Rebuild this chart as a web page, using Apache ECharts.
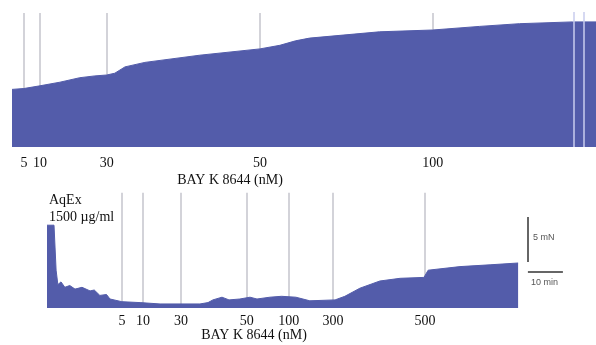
<!DOCTYPE html>
<html>
<head>
<meta charset="utf-8">
<script src="https://cdn.jsdelivr.net/npm/echarts@6/dist/echarts.min.js"></script>
<style>
html, body { margin: 0; padding: 0; background: #fff; }
#chart { width: 596px; height: 345px; }
</style>
</head>
<body>
<div id="chart"></div>
<script>
// time in min, tension in mN (scale bar: 10 min, 5 mN)
var topTrace = [
  [0, 6.4], [3.4, 6.5], [8.0, 6.8], [13.7, 7.2], [19.4, 7.7], [23.7, 7.9],
  [27.1, 8.0], [29.4, 8.2], [32.3, 8.9], [38.0, 9.4], [53.7, 10.2],
  [70.9, 10.9], [76.6, 11.3], [81.1, 11.8], [85.1, 12.1], [105.1, 12.8],
  [120.3, 13.0], [133.7, 13.4], [145.1, 13.7], [160.3, 13.9], [167, 13.9]
];
var topAdds = [3.4, 8.0, 27.1, 70.9, 120.3];
var topDoses = ['5', '10', '30', '50', '100'];
var topArtifacts = [160.6, 163.4];

var bottomTrace = [
  [0, 9.2], [2.0, 9.2], [2.6, 4.2], [3.1, 2.6], [4.0, 2.9], [5.1, 2.3],
  [6.5, 2.5], [8.0, 2.1], [10.0, 2.3], [12.3, 1.9], [13.5, 2.0], [15.1, 1.4],
  [17.0, 1.5], [18.0, 1.0], [21.4, 0.7], [26.6, 0.6], [32.3, 0.45],
  [43.7, 0.45], [46.0, 0.6], [47.4, 0.9], [50.0, 1.2], [52.0, 0.9],
  [55.1, 1.0], [58.0, 1.2], [60.0, 1.0], [63.7, 1.2], [67.0, 1.3],
  [71.1, 1.2], [75.1, 0.8], [82.3, 0.9], [85.1, 1.3], [89.4, 2.2],
  [95.1, 3.0], [100.9, 3.3], [107.7, 3.4], [108.9, 4.2], [118.0, 4.6],
  [126.6, 4.8], [134.6, 5.0]
];
var bottomAdds = [21.4, 27.4, 38.3, 57.1, 69.1, 81.7, 108.0];
var bottomDoses = ['5', '10', '30', '50', '100', '300', '500'];

var scaleOrigin = [137.4, 4.0];
var scaleTime = 10;
var scaleForce = 5;

var fill = '#535CAA';
var marker = '#c4c4cc';

function vLines(times, yTop) {
  return times.map(function (t) { return { coords: [[t, 0], [t, yTop]] }; });
}
function doseLabel(times, doses) {
  return function (v) {
    for (var i = 0; i < times.length; i++) {
      if (Math.abs(times[i] - v) < 0.01) return doses[i];
    }
    return '';
  };
}

var chart = echarts.init(document.getElementById('chart'));
chart.setOption({
  animation: false,
  grid: [
    { left: 12, top: 12, width: 584, height: 135 },
    { left: 47, top: 191, width: 525, height: 117 }
  ],
  xAxis: [
    {
      gridIndex: 0, type: 'value', min: 0, max: 167,
      axisLine: { show: false }, axisTick: { show: false }, splitLine: { show: false },
      axisLabel: {
        customValues: topAdds, formatter: doseLabel(topAdds, topDoses),
        margin: 9, fontFamily: 'Liberation Serif', fontSize: 14, color: '#111'
      }
    },
    {
      gridIndex: 1, type: 'value', min: 0, max: 150,
      axisLine: { show: false }, axisTick: { show: false }, splitLine: { show: false },
      axisLabel: {
        customValues: bottomAdds, formatter: doseLabel(bottomAdds, bottomDoses),
        margin: 6, fontFamily: 'Liberation Serif', fontSize: 14, color: '#111'
      }
    }
  ],
  yAxis: [
    { gridIndex: 0, type: 'value', min: 0, max: 15, show: false },
    { gridIndex: 1, type: 'value', min: 0, max: 13, show: false }
  ],
  graphic: [
    { type: 'text', x: 230, y: 180, style: { text: 'BAY K 8644 (nM)', font: '14px "Liberation Serif"', fill: '#111', align: 'center', verticalAlign: 'middle' } },
    { type: 'text', x: 254, y: 335, style: { text: 'BAY K 8644 (nM)', font: '14px "Liberation Serif"', fill: '#111', align: 'center', verticalAlign: 'middle' } },
    { type: 'text', x: 49, y: 200, style: { text: 'AqEx', font: '14px "Liberation Serif"', fill: '#111', align: 'left', verticalAlign: 'middle' } },
    { type: 'text', x: 49, y: 217, style: { text: '1500 \u00b5g/ml', font: '14px "Liberation Serif"', fill: '#111', align: 'left', verticalAlign: 'middle' } },
    { type: 'text', x: 533, y: 238, style: { text: '5 mN', font: '9px "Liberation Sans"', fill: '#555', align: 'left', verticalAlign: 'middle' } },
    { type: 'text', x: 531, y: 283, style: { text: '10 min', font: '9px "Liberation Sans"', fill: '#555', align: 'left', verticalAlign: 'middle' } }
  ],
  series: [
    {
      type: 'lines', coordinateSystem: 'cartesian2d', xAxisIndex: 0, yAxisIndex: 0, z: 1,
      lineStyle: { color: marker, width: 1.5, opacity: 1 },
      data: vLines(topAdds, 14.9)
    },
    {
      type: 'line', xAxisIndex: 0, yAxisIndex: 0, z: 2, showSymbol: false,
      lineStyle: { color: fill, width: 1 }, areaStyle: { color: fill, opacity: 1 },
      data: topTrace
    },
    {
      type: 'lines', coordinateSystem: 'cartesian2d', xAxisIndex: 0, yAxisIndex: 0, z: 3,
      lineStyle: { color: '#c8ccee', width: 1.5, opacity: 1 },
      data: vLines(topArtifacts, 15)
    },
    {
      type: 'lines', coordinateSystem: 'cartesian2d', xAxisIndex: 1, yAxisIndex: 1, z: 1,
      lineStyle: { color: marker, width: 1.5, opacity: 1 },
      data: vLines(bottomAdds, 12.8)
    },
    {
      type: 'line', xAxisIndex: 1, yAxisIndex: 1, z: 2, showSymbol: false,
      lineStyle: { color: fill, width: 1 }, areaStyle: { color: fill, opacity: 1 },
      data: bottomTrace
    },
    {
      type: 'lines', coordinateSystem: 'cartesian2d', xAxisIndex: 1, yAxisIndex: 1, z: 3,
      lineStyle: { color: '#333', width: 1.5, opacity: 1 },
      data: [
        { coords: [[scaleOrigin[0], scaleOrigin[1] + 1.1], [scaleOrigin[0], scaleOrigin[1] + 1.1 + scaleForce]] },
        { coords: [[scaleOrigin[0], scaleOrigin[1]], [scaleOrigin[0] + scaleTime, scaleOrigin[1]]] }
      ]
    }
  ]
});
</script>
</body>
</html>
